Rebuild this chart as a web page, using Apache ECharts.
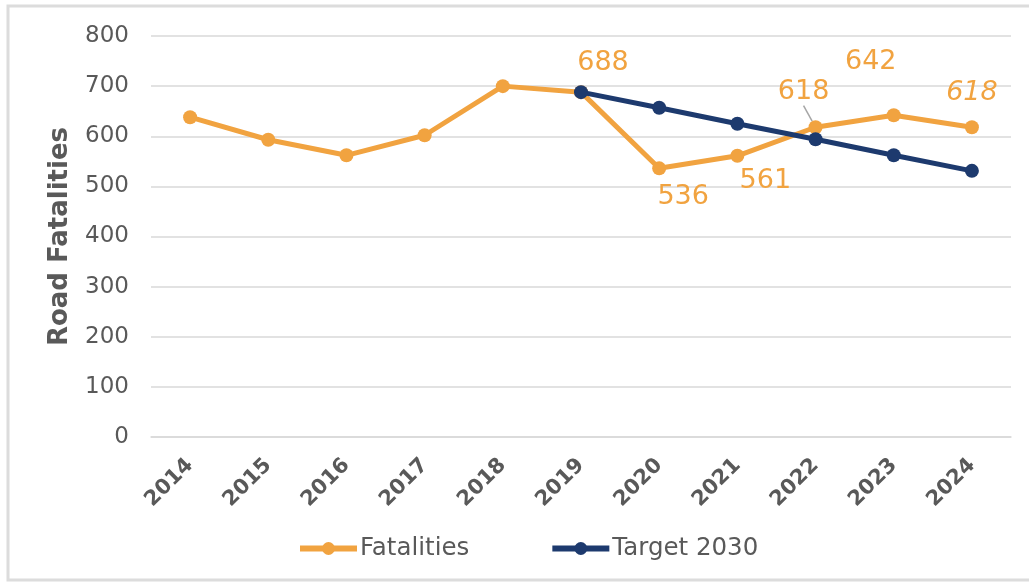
<!DOCTYPE html>
<html>
<head>
<meta charset="utf-8">
<script src="https://cdn.jsdelivr.net/npm/echarts@6/dist/echarts.min.js"></script>
<style>
html,body{margin:0;padding:0;background:#fff;}
#c{width:1029px;height:584px;}
</style>
</head>
<body>
<div id="c"></div>
<script>
var years = ['2014','2015','2016','2017','2018','2019','2020','2021','2022','2023','2024'];
var fatalities = [638, 593, 562, 602, 700, 688, 536, 561, 618, 642, 618];
var target2030 = [null, null, null, null, null, 688, 657, 625, 594, 562, 531];
var labelledYears = ['2019','2020','2021','2022','2023','2024'];

var ORANGE = '#F1A340';
var NAVY = '#1D3A6E';
var GREY = '#595959';

// label placement (style only)
var labelShift = {
  '2019': [22, -29], '2020': [24, 29], '2021': [28, 25],
  '2022': [-12, -35], '2023': [-23, -53], '2024': [0, -34]
};
var leaderYears = ['2022'];

var chart = echarts.init(document.getElementById('c'));
chart.setOption({
  animation: false,
  graphic: [{
    type: 'rect', silent: true, z: -10,
    shape: {x: 8, y: 6, width: 1040, height: 574},
    style: {fill: 'none', stroke: '#dcdcdc', lineWidth: 3}
  }],
  grid: {left: 151, right: 18, top: 36, bottom: 147},
  xAxis: {
    type: 'category',
    data: years,
    boundaryGap: true,
    axisLine: {lineStyle: {color: '#d9d9d9', width: 1.5}},
    axisTick: {show: false},
    axisLabel: {rotate: 45, color: GREY, fontFamily: 'DejaVu Sans', fontWeight: 'bold', fontSize: 21, margin: 25}
  },
  yAxis: {
    type: 'value', min: 0, max: 800, interval: 100,
    name: 'Road Fatalities', nameLocation: 'middle', nameGap: 78,
    nameTextStyle: {color: GREY, fontFamily: 'DejaVu Sans', fontWeight: 'bold', fontSize: 26},
    axisLine: {show: false}, axisTick: {show: false},
    axisLabel: {color: GREY, fontFamily: 'DejaVu Sans', fontSize: 23, margin: 22},
    splitLine: {lineStyle: {color: '#d9d9d9', width: 1.5}}
  },
  legend: {
    bottom: 18, left: 292, itemGap: 80, itemWidth: 57, itemHeight: 16,
    lineStyle: {width: 6},
    textStyle: {color: GREY, fontFamily: 'DejaVu Sans', fontSize: 24.5, padding: [0, 0, 0, -2]},
    data: ['Fatalities', 'Target 2030']
  },
  series: [{
    name: 'Fatalities', type: 'line',
    data: fatalities.map(function (v, i) {
      return leaderYears.indexOf(years[i]) >= 0 ? {value: v, labelLine: {show: true}} : v;
    }),
    color: ORANGE,
    lineStyle: {width: 5, color: ORANGE},
    itemStyle: {color: ORANGE},
    symbol: 'circle', symbolSize: 14,
    label: {
      show: true, position: 'inside', color: ORANGE, fontFamily: 'DejaVu Sans', fontSize: 27,
      formatter: function (p) {
        var y = years[p.dataIndex];
        if (labelledYears.indexOf(y) < 0) return '';
        return y === '2024' ? '{i|' + p.value + '}' : String(p.value);
      },
      rich: {i: {fontStyle: 'italic', color: ORANGE, fontFamily: 'DejaVu Sans', fontSize: 27}}
    },
    labelLayout: function (params) {
      var s = labelShift[years[params.dataIndex]];
      if (!s) return {};
      return {dx: s[0], dy: s[1]};
    },
    labelLine: {show: false, lineStyle: {color: '#a6a6a6', width: 1.5}},
    z: 2
  }, {
    name: 'Target 2030', type: 'line',
    data: target2030,
    color: NAVY,
    lineStyle: {width: 5, color: NAVY},
    itemStyle: {color: NAVY},
    symbol: 'circle', symbolSize: 14,
    z: 3
  }]
});
</script>
</body>
</html>
